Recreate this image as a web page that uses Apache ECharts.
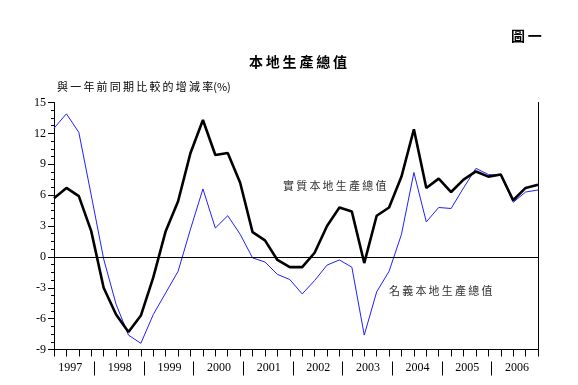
<!DOCTYPE html>
<html><head><meta charset="utf-8">
<script src="https://cdn.jsdelivr.net/npm/echarts@6/dist/echarts.min.js"></script>
<style>html,body{margin:0;padding:0;background:#fff}#c{width:578px;height:385px}</style>
</head><body><div id="c"></div>
<script>
const years = ['1997','1998','1999','2000','2001','2002','2003','2004','2005','2006'];
const quarters = [];
years.forEach(y => ['Q1','Q2','Q3','Q4'].forEach(q => quarters.push(y + q)));
const realGDP = [5.7,6.7,5.9,2.5, -3.0,-5.6,-7.3,-5.7, -2.0,2.5,5.4,10.1, 13.3,9.9,10.1,7.2,
  2.4,1.6,-0.3,-1.0, -1.0,0.4,3.0,4.8, 4.4,-0.6,4.0,4.8, 7.8,12.4,6.7,7.6, 6.3,7.5,8.3,7.8, 8.0,5.5,6.7,7.0];
const nominalGDP = [12.5,13.9,12.1,6.0, -0.2,-4.6,-7.6,-8.4, -5.6,-3.5,-1.4,2.7, 6.6,2.8,4.0,2.2,
  -0.1,-0.5,-1.7,-2.2, -3.6,-2.3,-0.8,-0.3, -1.0,-7.6,-3.4,-1.4, 2.2,8.2,3.4,4.8, 4.7,6.7,8.6,8.0, 7.9,5.3,6.3,6.5];
const yTicks = {min: -9, max: 15, interval: 3};

const sepPos = years.slice(1).map((y, i) => 3.25 + 4 * i);
const labelPos = years.map((y, i) => 1.3 + 4 * i);
const serif = 'Liberation Serif';
const cjk = 'Noto Sans CJK TC';
const sp = s => s.split('').join('\u2009');

const chart = echarts.init(document.getElementById('c'), null, {renderer: 'canvas'});
chart.setOption({
  animation: false,
  backgroundColor: '#fff',
  grid: {left: 54, right: 40, top: 102.5, bottom: 35.5, containLabel: false},
  xAxis: [{
    type: 'category', data: quarters, boundaryGap: false,
    axisLine: {onZero: false, lineStyle: {color: '#000', width: 1}},
    axisTick: {show: true, interval: 0, length: 7, lineStyle: {color: '#000'}},
    axisLabel: {show: false}, splitLine: {show: false}
  }, {
    type: 'value', min: 0, max: quarters.length - 1, position: 'bottom', offset: 12,
    axisLine: {show: false, onZero: false},
    axisTick: {show: true, customValues: sepPos, length: 14, lineStyle: {color: '#000', width: 1}},
    axisLabel: {show: true, customValues: labelPos, margin: 0, color: '#000',
      fontFamily: serif, fontSize: 12,
      formatter: v => years[Math.round((v - 1.3) / 4)]},
    splitLine: {show: false}
  }],
  yAxis: [{
    type: 'value', min: yTicks.min, max: yTicks.max, interval: yTicks.interval,
    axisLine: {show: true, onZero: false, lineStyle: {color: '#000', width: 1}},
    axisTick: {show: true, length: 6, lineStyle: {color: '#000'}},
    minorTick: {show: true, splitNumber: 4, length: 3, lineStyle: {color: '#000'}},
    axisLabel: {margin: 8, color: '#000', fontFamily: serif, fontSize: 12},
    splitLine: {show: false}
  }, {
    type: 'value', position: 'right', min: yTicks.min, max: yTicks.max, interval: yTicks.interval,
    axisLine: {show: true, onZero: false, lineStyle: {color: '#000', width: 1}},
    axisTick: {show: false}, axisLabel: {show: false}, splitLine: {show: false}
  }],
  series: [{
    name: '名義本地生產總值', type: 'line', data: nominalGDP, symbol: 'none', z: 2,
    lineStyle: {color: '#2020ff', width: 1}
  }, {
    name: '實質本地生產總值', type: 'line', data: realGDP, symbol: 'none', z: 3,
    lineStyle: {color: '#000', width: 2.6},
    markLine: {silent: true, symbol: 'none', label: {show: false},
      lineStyle: {color: '#000', width: 1, type: 'solid'},
      data: [{yAxis: 0}]}
  }],
  graphic: [
    {type: 'text', left: 511, top: 29, style: {text: sp('圖一'), font: 'bold 14px "' + cjk + '"', fill: '#000'}},
    {type: 'text', left: 249, top: 55, style: {text: sp('本地生產總值'), font: 'bold 14px "' + cjk + '"', fill: '#000'}},
    {type: 'text', left: 57, top: 81, style: {text: sp('與一年前同期比較的增減率') + '(%)', font: '11px "' + cjk + '"', fill: '#000'}},
    {type: 'text', left: 283, top: 180, style: {text: sp('實質本地生產總值'), font: '11px "' + cjk + '"', fill: '#333'}},
    {type: 'text', left: 389, top: 285, style: {text: sp('名義本地生產總值'), font: '11px "' + cjk + '"', fill: '#333'}}
  ]
});
</script></body></html>
